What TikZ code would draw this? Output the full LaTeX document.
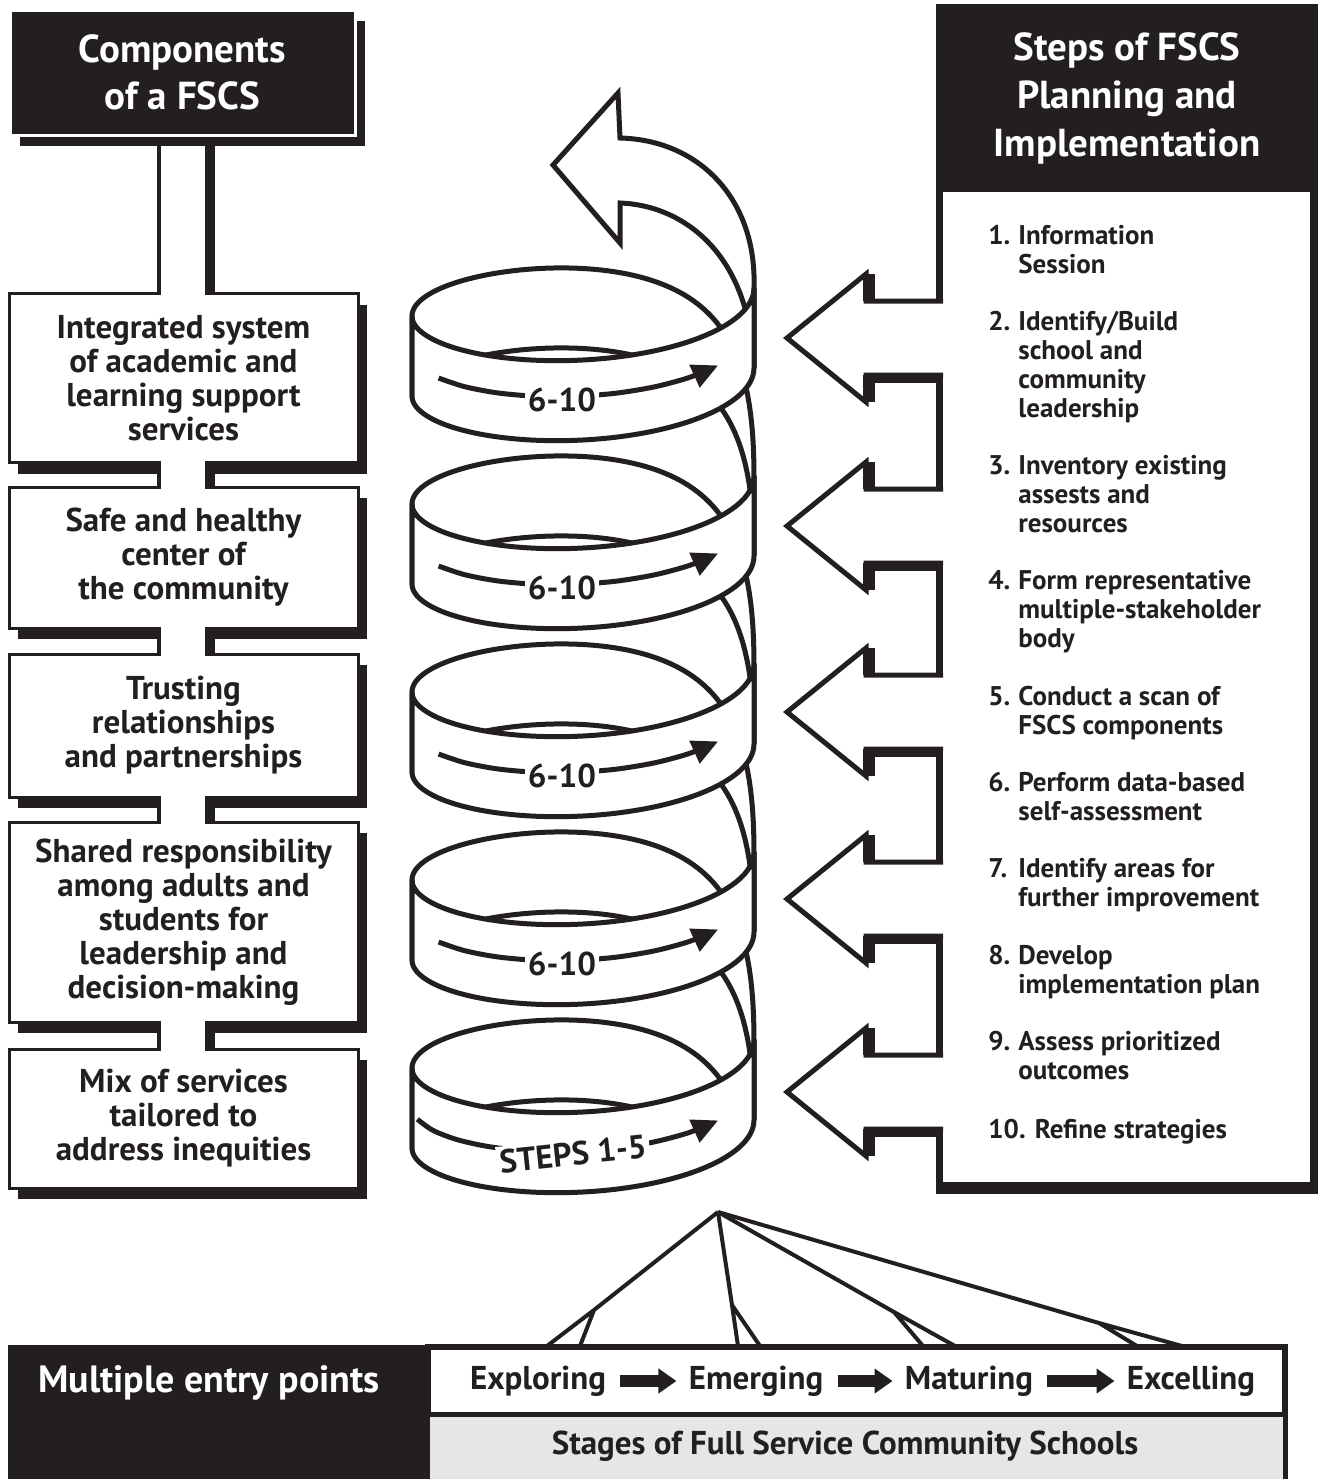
\documentclass[tikz,border=0pt]{standalone}
\usepackage{fontspec}
\setmainfont{PT Sans}
\usetikzlibrary{arrows.meta,shadows,positioning}
\definecolor{ink}{HTML}{231F20}
\definecolor{stageband}{HTML}{E6E6E6}
\tikzset{
  headbox/.style={fill=ink, draw=white, line width=1.5pt, text=white, align=center,
    font=\fontsize{19.5}{23.5}\selectfont\bfseries,
    drop shadow={shadow xshift=5pt, shadow yshift=-5.5pt, fill=ink, opacity=1}},
  compbox/.style={fill=white, draw=ink, line width=1.5pt, text=ink, align=center,
    minimum width=174.5pt, font=\fontsize{16.5}{17}\selectfont\bfseries,
    drop shadow={shadow xshift=4.5pt, shadow yshift=-5.5pt, fill=ink, opacity=1}},
  headtext/.style={text=white, align=center, font=\fontsize{19.5}{24}\selectfont\bfseries},
  steptext/.style={anchor=base west, inner sep=0pt, text=ink, font=\fontsize{13.5}{14.5}\selectfont\bfseries},
  ribbon/.style={draw=ink, fill=white, line width=2.5pt, line join=round},
  labarrow/.style={draw=ink, line width=2.5pt, -{Triangle[length=13pt,width=12pt]}},
  bandlab/.style={fill=white, inner sep=1.5pt, text=ink, font=\fontsize{16.5}{16.5}\selectfont\bfseries},
  fan/.style={draw=ink, line width=2pt, line join=round},
  stagename/.style={inner sep=0pt, text=ink, font=\fontsize{16.5}{18}\selectfont\bfseries},
  stagearrow/.style={draw=ink, line width=6pt, -{Triangle[length=9pt,width=12pt]}, shorten <=7pt, shorten >=6pt},
  entrytext/.style={text=white, font=\fontsize{19}{21}\selectfont\bfseries},
  bandtext/.style={text=ink, font=\fontsize{16.5}{18}\selectfont\bfseries}
}
\newcommand{\stepnum}[2]{\begin{tabular}[t]{@{}p{15pt}@{}l@{}}#1&#2\end{tabular}}

\begin{document}
\begin{tikzpicture}[x=0.5pt,y=-0.5pt]
\useasboundingbox (0,0) rectangle (1321,1479);

% components column
\node[headbox, minimum width=172.5pt, minimum height=62.5pt] (comp) at (182.5,72.5) {Components\\of a FSCS};
\node[compbox, minimum height=84.5pt] (box1) at (183.5,378) {Integrated system\\of academic and\\learning support\\services};
\node[compbox, minimum height=70.5pt] (box2) at (183.5,557.5) {Safe and healthy\\center of\\the community};
\node[compbox, minimum height=71.5pt] (box3) at (183.5,725.5) {Trusting\\relationships\\and partnerships};
\node[compbox, minimum height=100pt] (box4) at (183.5,922) {Shared responsibility\\among adults and\\students for\\leadership and\\decision-making};
\node[compbox, minimum height=69.5pt] (box5) at (183.5,1118.5) {Mix of services\\tailored to\\address inequities};

% pipes between the boxes
\fill[ink] (157,146) rectangle (161,292);
\fill[ink] (205,146) rectangle (215,292);
\fill[white] (161,287) rectangle (205,295);
\foreach \a/\b in {462.5/487, 628/654, 797/822, 1022/1049} {
  \fill[white] (161,{\a-3}) rectangle (205,{\b+3});
  \fill[ink] (157,{\a-1.5}) rectangle (161,{\b+1.5});
  \fill[ink] (205,{\a-1.5}) rectangle (215,{\b+1.5});
}

% steps panel
\fill[ink] (936,4) rectangle (1318,1194);
\fill[white] (943,192) rectangle (1310,1182);
\node[headtext] (plan) at (1127,98) {Steps of FSCS\\Planning and\\Implementation};
\node[steptext] (step1) at (988,244) {\stepnum{1.}{Information\\&Session}};
\node[steptext] (step2) at (988,330) {\stepnum{2.}{Identify/Build\\&school and\\&community\\&leadership}};
\node[steptext] (step3) at (988,474) {\stepnum{3.}{Inventory existing\\&assests and\\&resources}};
\node[steptext] (step4) at (988,589) {\stepnum{4.}{Form representative\\&multiple-stakeholder\\&body}};
\node[steptext] (step5) at (988,705) {\stepnum{5.}{Conduct a scan of\\&FSCS components}};
\node[steptext] (step6) at (988,791) {\stepnum{6.}{Perform data-based\\&self-assessment}};
\node[steptext] (step7) at (988,877) {\stepnum{7.}{Identify areas for\\&further improvement}};
\node[steptext] (step8) at (988,964) {\stepnum{8.}{Develop\\&implementation plan}};
\node[steptext] (step9) at (988,1050) {\stepnum{9.}{Assess prioritized\\&outcomes}};
\node[steptext] (step10) at (988,1138) {10. Refine strategies};

% block arrows into the spiral
\foreach \yc in {338,526,712,899,1092} {
  \fill[white] (945,{\yc-37}) -- (866,{\yc-37}) -- (866,{\yc-64}) -- (787,\yc)
    -- (866,{\yc+64}) -- (866,{\yc+37}) -- (945,{\yc+37}) -- cycle;
  \draw[ink, line width=2.5pt] (943,{\yc-37}) -- (866,{\yc-37}) -- (866,{\yc-64}) -- (787,\yc)
    -- (866,{\yc+64}) -- (866,{\yc+37}) -- (943,{\yc+37});
  \fill[ink] (863,{\yc-64}) rectangle (875,{\yc-37});
  \fill[ink] (863,{\yc+37}) rectangle (875,{\yc+64});
  \fill[ink] (866,{\yc+35}) rectangle (943,{\yc+45});
}

% spiral, back halves first
\foreach \Y in {356,544,732,920}
  \filldraw[ribbon] plot[variable=\s,domain=0:1,samples=80] ({583+171*cos(180*\s)},{\Y+160*(1-\s)^6-50*sin(180*\s)-40})
    -- plot[variable=\s,domain=1:0,samples=80] ({583+171*cos(180*\s)},{\Y+160*(1-\s)^6-50*sin(180*\s)+40}) -- cycle;
\filldraw[ribbon] plot[variable=\s,domain=0.2:1,samples=60] ({583+171*cos(180*\s)},{1108+160*(1-\s)^6-50*sin(180*\s)-40})
  -- plot[variable=\s,domain=1:0.2,samples=60] ({583+171*cos(180*\s)},{1108+160*(1-\s)^6-50*sin(180*\s)+40}) -- cycle;
% end of the ribbon, turned into an arrow
\filldraw[ribbon, line join=miter] (754,288) .. controls (757,200) and (700,140) .. (620,138) -- (618,93) -- (553,165)
  -- (620,243) -- (620,203) .. controls (680,205) and (750,250) .. (754,368) -- cycle;
% front halves
\foreach \Y in {356,544,732,920,1108}
  \filldraw[ribbon] plot[variable=\t,domain=0:1,samples=80] ({583-171*cos(180*\t)},{\Y+58*sin(180*\t)-28*\t-40})
    -- plot[variable=\t,domain=1:0,samples=80] ({583-171*cos(180*\t)},{\Y+58*sin(180*\t)-28*\t+40}) -- cycle;

% band labels
\foreach \Y [count=\i] in {356,544,732,920} {
  \draw[labarrow] plot[smooth,variable=\t,domain=0.18:0.79,samples=9] ({583-171*cos(180*\t)},{\Y+58*sin(180*\t)-28*\t-4});
  \node[bandlab] (lab\i) at (562,{\Y+44}) {6-10};
}
\draw[labarrow] plot[smooth,variable=\t,domain=0.08:0.79,samples=10] ({583-171*cos(180*\t)},{1108+58*sin(180*\t)-28*\t-1});
\node[bandlab, rotate=6] (lab5) at (573,1154) {STEPS 1-5};

% stages
\fill[ink] (8,1345) rectangle (428,1479);
\node[entrytext] (entry) at (209,1383) {Multiple entry points};
\draw[ink, line width=3pt, fill=white] (428,1347) rectangle (1285,1500);
\fill[stageband] (430,1416) rectangle (1283,1479);
\draw[ink, line width=2.5pt] (428,1414) -- (1285,1414);
\node[bandtext] (stages) at (845,1446) {Stages of Full Service Community Schools};
\node[stagename] (explore) at (538,1381) {Exploring};
\node[stagename] (emerge) at (756,1381) {Emerging};
\node[stagename] (mature) at (969,1381) {Maturing};
\node[stagename] (excel) at (1191,1381) {Excelling};
\draw[stagearrow] (explore) -- (emerge);
\draw[stagearrow] (emerge) -- (mature);
\draw[stagearrow] (mature) -- (excel);

% fan from the spiral to the stages
\coordinate (apex) at (718,1212);
\coordinate (j1) at (594,1310); \coordinate (f1a) at (547,1346); \coordinate (f1b) at (580,1346);
\coordinate (j2) at (732,1305); \coordinate (f2a) at (738,1346); \coordinate (f2b) at (760,1346);
\coordinate (j3) at (894,1312); \coordinate (f3a) at (955,1346); \coordinate (f3b) at (923,1346);
\coordinate (j4) at (1099,1323); \coordinate (f4a) at (1182,1346); \coordinate (f4b) at (1137,1346);
\foreach \i in {1,2,3,4}
  \draw[fan] (apex) -- (j\i) -- (f\i a) (j\i) -- (f\i b);
\end{tikzpicture}
\end{document}
